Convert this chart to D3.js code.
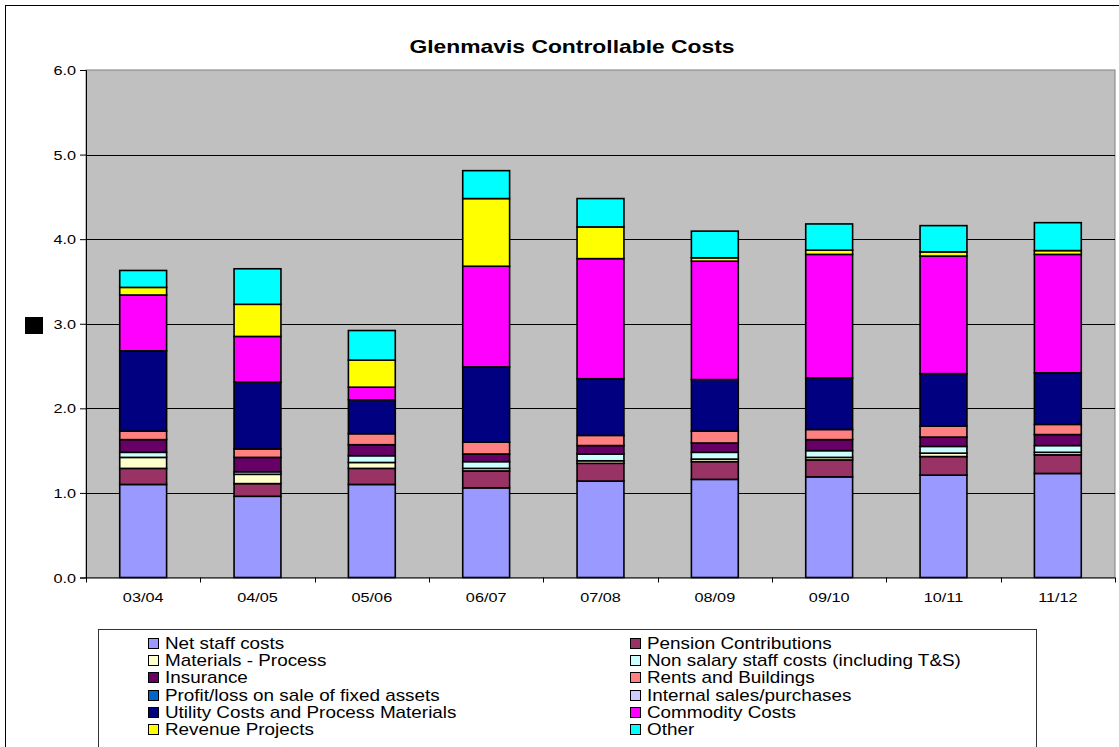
<!DOCTYPE html>
<html>
<head>
<meta charset="utf-8">
<script src="https://cdn.jsdelivr.net/npm/d3@7"></script>
<style>
  body { margin: 0; background: #fff; }
  text { font-family: "Liberation Sans", Arial, sans-serif; fill: #000; }
</style>
</head>
<body>
<div id="chart"></div>
<script>
// Chart data
const years = ['03/04', '04/05', '05/06', '06/07', '07/08', '08/09', '09/10', '10/11', '11/12'];

const netStaff   = [1.10, 0.96, 1.10, 1.06, 1.14, 1.16, 1.19, 1.21, 1.23];
const pension    = [0.19, 0.15, 0.19, 0.20, 0.21, 0.21, 0.20, 0.22, 0.22];
const materials  = [0.13, 0.11, 0.07, 0.03, 0.03, 0.03, 0.03, 0.04, 0.03];
const nonSalary  = [0.06, 0.03, 0.08, 0.08, 0.08, 0.08, 0.08, 0.08, 0.08];
const insurance  = [0.15, 0.17, 0.13, 0.09, 0.10, 0.11, 0.13, 0.11, 0.13];
const rents      = [0.10, 0.10, 0.13, 0.14, 0.12, 0.14, 0.12, 0.13, 0.12];
const profitLoss = [0, 0, 0, 0, 0, 0, 0, 0, 0];
const internal   = [0, 0, 0, 0, 0, 0, 0, 0, 0];
const utility    = [0.95, 0.79, 0.40, 0.89, 0.67, 0.61, 0.61, 0.62, 0.61];
const commodity  = [0.66, 0.54, 0.15, 1.19, 1.42, 1.40, 1.46, 1.39, 1.40];
const revenue    = [0.09, 0.38, 0.32, 0.80, 0.375, 0.04, 0.05, 0.05, 0.045];
const other      = [0.20, 0.42, 0.35, 0.33, 0.335, 0.315, 0.31, 0.31, 0.33];

const seriesNames = [
  'Net staff costs', 'Pension Contributions', 'Materials - Process',
  'Non salary staff costs (including T&S)', 'Insurance', 'Rents and Buildings',
  'Profit/loss on sale of fixed assets', 'Internal sales/purchases',
  'Utility Costs and Process Materials', 'Commodity Costs', 'Revenue Projects', 'Other'
];
const seriesValues = [netStaff, pension, materials, nonSalary, insurance, rents,
  profitLoss, internal, utility, commodity, revenue, other];
const seriesColors = ['#9999FF', '#993366', '#FFFFCC', '#CCFFFF', '#660066', '#FF8080',
  '#0066CC', '#CCCCFF', '#000080', '#FF00FF', '#FFFF00', '#00FFFF'];

const yTicks = [0, 1, 2, 3, 4, 5, 6];

// build rows for d3.stack
const keys = seriesNames;
const rows = years.map((yr, i) => {
  const r = { year: yr };
  keys.forEach((k, j) => { r[k] = seriesValues[j][i]; });
  return r;
});

const W = 1119, H = 747;
const plot = { left: 86, right: 1115, top: 70, bottom: 577.5 };

const svg = d3.select('#chart').append('svg')
  .attr('width', W).attr('height', H);

// outer chart border
svg.append('rect')
  .attr('x', 5.5).attr('y', 5.5)
  .attr('width', W + 20).attr('height', H + 20)
  .attr('fill', '#fff').attr('stroke', '#000').attr('stroke-width', 1);

// little black box left of the axis
svg.append('rect')
  .attr('x', 25).attr('y', 317).attr('width', 18).attr('height', 17)
  .attr('fill', '#000');

// the reference text is drawn horizontally stretched
function label(g, x, y, str, size, anchor, sx, weight) {
  return g.append('text')
    .attr('transform', `translate(${x},${y}) scale(${sx},1)`)
    .attr('text-anchor', anchor)
    .style('font-size', size + 'px')
    .style('font-weight', weight || 'normal')
    .text(str);
}

// title
label(svg, 572, 53, 'Glenmavis Controllable Costs', 18, 'middle', 1.27, 'bold');

// scales
const x = d3.scaleBand()
  .domain(years)
  .range([plot.left, plot.right])
  .paddingInner(0.59)
  .paddingOuter(0.295);

const y = d3.scaleLinear()
  .domain([0, 6])
  .range([plot.bottom, plot.top]);

// plot area
svg.append('rect')
  .attr('x', plot.left).attr('y', plot.top)
  .attr('width', plot.right - plot.left).attr('height', plot.bottom - plot.top)
  .attr('fill', '#C0C0C0').attr('stroke', '#808080').attr('stroke-width', 1);

// gridlines
svg.append('g')
  .selectAll('line')
  .data(yTicks.filter(d => d > 0 && d < 6))
  .join('line')
  .attr('x1', plot.left).attr('x2', plot.right)
  .attr('y1', d => Math.round(y(d)) + 0.5).attr('y2', d => Math.round(y(d)) + 0.5)
  .attr('stroke', '#000').attr('stroke-width', 1);

// stacked bars
const stack = d3.stack().keys(keys);
const layers = stack(rows);

svg.append('g')
  .selectAll('g')
  .data(layers)
  .join('g')
  .attr('fill', (d, i) => seriesColors[i])
  .selectAll('rect')
  .data(d => d)
  .join('rect')
  .attr('x', d => x(d.data.year))
  .attr('width', x.bandwidth())
  .attr('y', d => y(d[1]))
  .attr('height', d => y(d[0]) - y(d[1]))
  .attr('stroke', '#000')
  .attr('stroke-width', 1.6);

// y axis
const yAxis = svg.append('g')
  .attr('transform', `translate(${plot.left},0)`)
  .call(d3.axisLeft(y).tickValues(yTicks).tickSize(6).tickFormat(d3.format('.1f')));
yAxis.select('.domain').attr('stroke', '#000');
yAxis.selectAll('.tick line').attr('stroke', '#000');
yAxis.selectAll('.tick text').each(function() {
  const t = d3.select(this);
  const str = t.text();
  const g = d3.select(this.parentNode);
  t.remove();
  label(g, -10, 4.5, str, 13, 'end', 1.25);
});

// x axis: labels centred, ticks on category boundaries
const xAxis = svg.append('g')
  .attr('transform', `translate(0,${plot.bottom})`)
  .call(d3.axisBottom(x).tickSize(0));
xAxis.select('.domain').attr('stroke', '#000').attr('d', `M${plot.left},0.5H${plot.right}`);
xAxis.selectAll('.tick text').each(function() {
  const t = d3.select(this);
  const str = t.text();
  const g = d3.select(this.parentNode);
  t.remove();
  label(g, 0, 24, str, 13, 'middle', 1.25);
});
xAxis.append('g')
  .selectAll('line')
  .data(d3.range(years.length + 1))
  .join('line')
  .attr('x1', i => Math.round(plot.left + i * x.step()) + 0.5)
  .attr('x2', i => Math.round(plot.left + i * x.step()) + 0.5)
  .attr('y1', 0).attr('y2', 5)
  .attr('stroke', '#000');

// legend
const legend = svg.append('g');
legend.append('rect')
  .attr('x', 98.5).attr('y', 629.5)
  .attr('width', 1036 - 98).attr('height', 140)
  .attr('fill', '#fff').attr('stroke', '#333').attr('stroke-width', 1);

const colX = [148, 630];
const rowY = d3.range(6).map(i => 643 + i * 17.2);

seriesNames.forEach((name, i) => {
  const cx = colX[i % 2];
  const cy = rowY[Math.floor(i / 2)];
  legend.append('rect')
    .attr('x', cx + 0.5).attr('y', Math.round(cy - 5) + 0.5)
    .attr('width', 10).attr('height', 10)
    .attr('fill', seriesColors[i]).attr('stroke', '#000').attr('stroke-width', 1);
  label(legend, cx + 17, cy + 6, name, 16, 'start', 1.18);
});
</script>
</body>
</html>
